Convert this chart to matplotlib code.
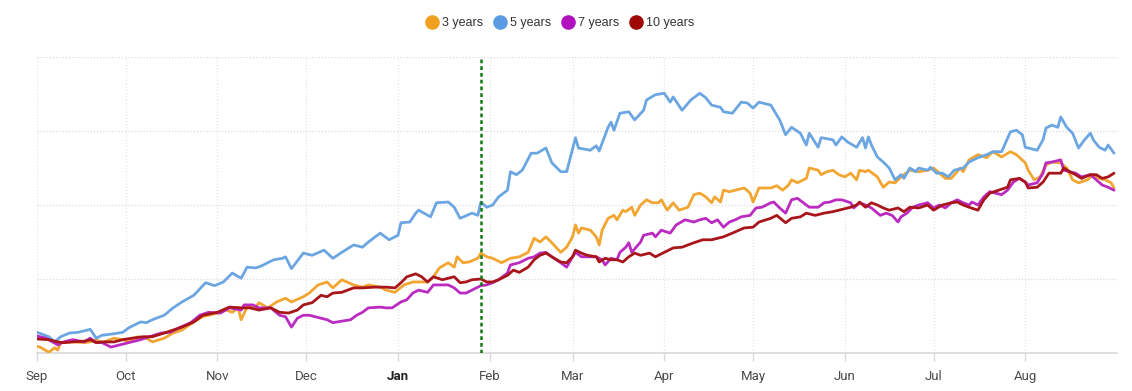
import matplotlib
matplotlib.use("Agg")
import matplotlib.pyplot as plt
import numpy as np
import pandas as pd
from matplotlib.lines import Line2D

START = pd.Timestamp("2022-09-01")

# ---- data (day offset from Sep 1, index value) ----
days_5y = [0, 4, 6, 8, 11, 14, 18, 20, 22, 26,
           29, 31, 35, 37, 39, 43, 46, 49, 53, 57,
           60, 63, 66, 69, 71, 74, 76, 80, 83, 84,
           86, 90, 93, 97, 100, 103, 107, 110, 112, 116,
           119, 122, 123, 126, 128, 129, 133, 135, 139, 141,
           143, 147, 149, 150, 152, 154, 156, 159, 160, 162,
           164, 167, 169, 172, 174, 177, 179, 182, 183, 187,
           189, 190, 193, 194, 195, 197, 200, 202, 205, 206,
           209, 212, 214, 215, 218, 221, 224, 226, 228, 231,
           232, 235, 238, 240, 242, 244, 248, 251, 253, 255,
           258, 260, 261, 264, 265, 269, 270, 272, 274, 277,
           279, 280, 281, 282, 284, 286, 288, 290, 292, 293,
           295, 297, 298, 301, 302, 304, 306, 308, 310, 313,
           315, 318, 321, 323, 326, 329, 331, 333, 334, 338,
           340, 341, 343, 345, 346, 348, 350, 352, 354, 356,
           357, 359, 361, 362, 364]
vals_5y = [2.8, 2.2, 1.5, 2.2, 2.7, 2.8, 3.2, 2.0, 2.4, 2.6,
           2.8, 3.4, 4.2, 4.1, 4.5, 5.1, 6.1, 6.9, 7.8, 9.5,
           9.1, 9.6, 10.8, 10.1, 11.6, 11.5, 11.8, 12.6, 12.8, 13.0,
           11.4, 13.5, 13.2, 13.9, 12.8, 13.6, 14.6, 14.3, 15.0, 16.2,
           15.3, 15.9, 17.6, 17.7, 18.9, 19.3, 18.4, 20.3, 20.4, 19.7,
           18.2, 18.9, 18.6, 20.4, 19.7, 20.0, 21.1, 22.0, 24.5, 24.1,
           24.7, 27.0, 27.0, 27.7, 25.7, 24.5, 24.5, 29.1, 27.7, 27.4,
           28.0, 27.3, 30.5, 31.2, 30.1, 32.4, 32.6, 31.5, 32.8, 34.2,
           34.9, 35.1, 33.9, 34.6, 32.8, 34.2, 35.1, 34.5, 33.5, 33.2,
           32.6, 32.4, 33.9, 33.8, 33.1, 33.9, 33.5, 31.5, 29.5, 30.5,
           29.7, 28.1, 29.7, 27.8, 29.1, 28.8, 28.1, 29.2, 28.5, 27.8,
           29.1, 27.7, 29.2, 28.1, 26.5, 25.8, 25.0, 23.4, 24.1, 23.6,
           25.0, 24.5, 25.0, 24.7, 25.1, 24.3, 24.3, 23.8, 24.7, 25.0,
           25.8, 26.4, 26.8, 27.2, 27.2, 29.9, 30.1, 29.5, 27.8, 27.4,
           28.8, 30.4, 30.8, 30.5, 31.9, 30.5, 29.7, 27.7, 28.8, 29.7,
           28.8, 27.8, 27.4, 28.1, 27.0]

days_3y = [0, 1, 4, 6, 7, 8, 12, 16, 18, 20,
           22, 26, 29, 31, 34, 37, 39, 43, 46, 49,
           53, 56, 61, 64, 66, 68, 69, 71, 74, 75,
           78, 81, 84, 86, 90, 92, 95, 98, 100, 103,
           107, 110, 112, 116, 118, 121, 124, 127, 129, 132,
           134, 136, 139, 141, 142, 144, 146, 149, 150, 152,
           154, 157, 160, 163, 166, 168, 170, 172, 174, 177,
           179, 181, 182, 183, 184, 187, 189, 190, 191, 193,
           195, 196, 198, 199, 201, 202, 204, 206, 208, 210,
           211, 213, 215, 217, 220, 222, 224, 226, 228, 229,
           231, 232, 234, 236, 239, 241, 242, 244, 245, 248,
           250, 252, 254, 255, 257, 260, 261, 264, 265, 267,
           269, 271, 273, 275, 277, 278, 280, 281, 284, 286,
           288, 290, 292, 295, 298, 301, 303, 305, 307, 309,
           312, 313, 315, 318, 321, 323, 326, 329, 331, 334,
           335, 337, 339, 341, 343, 346, 348, 350, 352, 355,
           357, 359, 361, 363, 364]
vals_3y = [0.9, 0.8, 0.1, 0.7, 0.4, 1.4, 1.5, 1.4, 1.5, 1.8,
           1.4, 2.0, 1.8, 1.5, 2.2, 2.0, 1.5, 2.0, 2.7, 3.1,
           4.2, 4.9, 5.4, 5.8, 5.5, 6.1, 4.5, 6.2, 6.2, 6.8,
           6.1, 6.9, 7.4, 6.9, 7.6, 8.1, 9.2, 9.6, 8.8, 9.9,
           9.2, 8.9, 9.2, 8.9, 8.5, 8.2, 9.2, 9.6, 9.6, 9.6,
           10.3, 11.5, 12.2, 11.6, 13.0, 12.2, 12.3, 12.8, 13.5, 13.0,
           12.8, 12.2, 12.8, 13.0, 13.6, 15.5, 15.0, 15.7, 14.9, 13.6,
           14.3, 15.7, 17.3, 16.2, 16.9, 16.6, 15.7, 14.6, 16.6, 18.2,
           18.6, 18.0, 19.3, 19.1, 19.7, 18.6, 20.0, 20.7, 20.3, 20.3,
           20.7, 19.3, 20.3, 19.3, 19.7, 21.4, 21.6, 21.1, 20.3, 21.1,
           20.4, 22.0, 21.8, 22.0, 22.3, 21.6, 20.4, 22.3, 22.3, 22.3,
           22.6, 22.0, 22.7, 23.4, 23.0, 23.6, 25.0, 24.7, 24.1, 24.5,
           24.7, 24.1, 23.8, 24.3, 23.4, 24.7, 24.5, 24.7, 23.8, 22.4,
           23.1, 23.0, 23.8, 24.7, 24.5, 24.7, 25.0, 24.3, 23.6, 23.6,
           25.0, 24.5, 26.1, 26.8, 26.4, 27.2, 26.5, 27.2, 26.8, 25.7,
           24.7, 23.4, 23.8, 25.4, 25.8, 25.7, 25.0, 23.4, 23.0, 23.4,
           24.1, 23.6, 23.4, 23.0, 22.3]

days_7y = [0, 3, 7, 9, 12, 16, 18, 20, 22, 25,
           28, 31, 35, 38, 42, 45, 48, 52, 55, 58,
           62, 65, 69, 70, 73, 75, 79, 82, 84, 86,
           88, 90, 92, 94, 96, 98, 100, 103, 106, 108,
           110, 112, 116, 118, 120, 123, 125, 127, 129, 132,
           134, 136, 139, 141, 143, 145, 147, 150, 152, 154,
           156, 159, 160, 163, 166, 168, 170, 172, 174, 177,
           179, 181, 182, 184, 187, 189, 191, 192, 194, 196,
           197, 199, 200, 201, 204, 205, 208, 209, 211, 214,
           216, 219, 222, 224, 226, 228, 230, 232, 234, 236,
           238, 241, 243, 245, 248, 249, 251, 253, 255, 257,
           259, 261, 264, 266, 268, 270, 272, 275, 276, 278,
           280, 282, 285, 287, 289, 291, 292, 294, 296, 298,
           301, 303, 305, 307, 309, 311, 313, 315, 316, 318,
           320, 322, 324, 326, 328, 330, 332, 334, 335, 338,
           340, 341, 343, 346, 347, 349, 351, 353, 356, 358,
           360, 362, 364]
vals_7y = [2.3, 2.0, 1.1, 1.5, 1.8, 1.5, 2.0, 1.4, 1.4, 0.8,
           1.1, 1.4, 1.8, 2.2, 2.7, 2.8, 3.4, 4.1, 5.1, 5.5,
           5.4, 6.1, 5.8, 6.5, 6.5, 6.1, 6.1, 5.1, 4.9, 3.5,
           4.7, 5.1, 5.1, 4.9, 4.7, 4.5, 4.1, 4.3, 4.5, 5.1,
           5.5, 6.1, 6.2, 6.1, 6.1, 6.9, 7.2, 8.1, 8.5, 8.2,
           9.2, 9.2, 9.2, 8.8, 8.1, 8.1, 8.5, 9.1, 9.2, 9.5,
           9.9, 10.8, 11.9, 12.2, 12.8, 13.0, 13.5, 13.6, 13.0, 12.2,
           11.6, 13.0, 13.6, 13.0, 13.0, 13.0, 12.6, 11.9, 12.8, 12.6,
           13.6, 14.3, 14.9, 13.6, 15.0, 15.9, 16.2, 15.7, 16.6, 16.2,
           17.3, 18.0, 17.7, 18.0, 18.2, 17.6, 18.0, 17.0, 17.7, 18.0,
           18.4, 18.6, 19.6, 19.7, 20.3, 20.4, 19.6, 18.9, 20.7, 20.9,
           20.3, 19.7, 19.7, 20.3, 20.4, 20.7, 20.7, 20.3, 19.6, 20.3,
           20.0, 19.6, 18.6, 18.9, 18.6, 17.7, 18.4, 18.9, 19.7, 20.0,
           20.3, 19.6, 20.0, 19.6, 20.3, 20.7, 20.3, 20.0, 20.4, 20.0,
           21.1, 21.8, 21.6, 21.4, 22.0, 23.1, 23.6, 23.1, 22.7, 23.0,
           24.3, 25.7, 25.8, 26.1, 24.7, 24.5, 24.3, 23.8, 24.1, 23.4,
           22.7, 22.4, 22.0]

days_10y = [0, 4, 7, 9, 12, 16, 18, 20, 22, 26,
            29, 32, 36, 39, 43, 46, 49, 53, 56, 61,
            65, 69, 72, 75, 79, 82, 85, 88, 90, 93,
            96, 98, 100, 103, 107, 110, 114, 118, 121, 123,
            125, 128, 130, 132, 134, 137, 141, 143, 145, 147,
            150, 152, 154, 156, 159, 161, 163, 166, 168, 170,
            172, 174, 177, 179, 181, 182, 184, 186, 189, 190,
            192, 194, 196, 198, 200, 202, 204, 207, 209, 212,
            215, 218, 222, 225, 228, 232, 235, 239, 242, 244,
            248, 250, 253, 255, 258, 260, 263, 266, 269, 271,
            275, 277, 278, 280, 282, 284, 286, 288, 291, 293,
            295, 298, 301, 303, 306, 309, 311, 313, 315, 318,
            320, 322, 325, 328, 329, 332, 334, 335, 338, 340,
            342, 346, 347, 349, 351, 353, 356, 358, 360, 362,
            364]
vals_10y = [1.9, 1.8, 1.5, 1.4, 1.5, 1.6, 1.8, 1.4, 1.5, 1.5,
            1.8, 2.0, 2.2, 2.2, 2.7, 3.1, 3.5, 4.2, 5.1, 5.5,
            6.2, 6.1, 6.1, 5.8, 6.1, 5.5, 5.4, 5.8, 6.5, 6.8,
            7.8, 7.6, 8.1, 8.2, 8.8, 8.8, 8.9, 8.9, 8.8, 9.5,
            10.3, 10.7, 10.3, 9.6, 10.3, 9.9, 10.3, 9.5, 9.6, 9.9,
            10.0, 9.6, 9.6, 9.9, 10.5, 11.2, 10.9, 11.6, 12.6, 13.2,
            13.5, 13.0, 12.3, 12.2, 13.0, 13.9, 13.5, 13.2, 13.0, 12.3,
            12.8, 12.6, 12.6, 12.3, 13.0, 13.5, 13.2, 13.5, 13.0, 13.6,
            14.2, 14.3, 14.9, 15.3, 15.3, 15.7, 16.2, 16.9, 17.0, 17.7,
            18.2, 18.6, 17.6, 18.2, 18.4, 18.9, 18.6, 18.9, 19.1, 19.3,
            19.7, 20.0, 20.4, 19.7, 20.3, 20.0, 19.6, 19.3, 19.6, 19.1,
            19.7, 19.6, 20.0, 19.3, 20.0, 20.3, 20.4, 20.0, 19.7, 19.3,
            20.7, 21.6, 22.0, 22.4, 23.4, 23.6, 23.1, 22.3, 22.4, 23.1,
            24.3, 24.3, 25.0, 24.5, 24.1, 23.6, 24.1, 24.1, 23.6, 23.8,
            24.3]

SERIES_NAMES = ["3 years", "5 years", "7 years", "10 years"]
MONTH_LABELS = ["Sep", "Oct", "Nov", "Dec", "Jan", "Feb",
                "Mar", "Apr", "May", "Jun", "Jul", "Aug"]
MARKER_DAY = 150          # green dotted reference line (end of January)
Y_GRID = [0, 10, 20, 30, 40]

COLORS = ["#F2A531", "#6CA6E2", "#BB2BC2", "#A8161B"]
LEGEND_COLORS = ["#F0A020", "#5B9BE3", "#B010C0", "#A00808"]

days = [days_3y, days_5y, days_7y, days_10y]
vals = [vals_3y, vals_5y, vals_7y, vals_10y]

W, H = 1132, 391
fig = plt.figure(figsize=(W / 100, H / 100), dpi=100)
ax = fig.add_axes([37 / W, 1 - 353 / H, (1117 - 37) / W, (353 - 57) / H])


def to_dates(d):
    return START + pd.to_timedelta(np.asarray(d), unit="D")


for name, d, v, c in zip(SERIES_NAMES, days, vals, COLORS):
    ax.plot(to_dates(d), v, color=c, lw=2.0, solid_joinstyle="round",
            solid_capstyle="round", label=name, zorder=3)

ax.axvline(START + pd.Timedelta(days=MARKER_DAY), color="#137A13", lw=1.8,
           ls=(0, (1.5, 1.2)), zorder=4)

ax.set_xlim(START, START + pd.Timedelta(days=365))
ax.set_ylim(Y_GRID[0], Y_GRID[-1])

month_starts = pd.date_range(START, periods=12, freq="MS")
ax.set_xticks(month_starts)
ax.set_xticklabels(MONTH_LABELS)
for lab in ax.get_xticklabels():
    lab.set_fontfamily("Roboto")
    lab.set_fontsize(9.5)
    lab.set_color("#4a4a4a")
    if lab.get_text() == "Jan":
        lab.set_fontweight("bold")
        lab.set_color("#222222")

ax.set_yticks(Y_GRID)
ax.set_yticklabels([])
ax.tick_params(axis="y", length=0)
ax.tick_params(axis="x", length=6, color="#d8d8d8", width=1, pad=6)

ax.grid(axis="y", color="#dcdcdc", ls=(0, (1, 1.5)), lw=0.9, zorder=0)
ax.grid(axis="x", color="#e6e6e6", ls=(0, (1, 1.5)), lw=0.9, zorder=0)

for s in ["top", "right", "left"]:
    ax.spines[s].set_visible(False)
ax.spines["bottom"].set_color("#d8d8d8")
ax.spines["bottom"].set_linewidth(1.2)

handles = [Line2D([], [], marker="o", ls="none", markersize=9.5,
                  markerfacecolor=c, markeredgecolor=c) for c in LEGEND_COLORS]
fig.legend(handles, SERIES_NAMES, loc="center", ncol=4,
           bbox_to_anchor=(560 / W, 1 - 23 / H), frameon=False,
           prop={"family": "Liberation Sans", "size": 9},
           handletextpad=0.25, columnspacing=0.9, handlelength=1.0,
           labelcolor="#333333")

fig.savefig("out.png", dpi=100)
